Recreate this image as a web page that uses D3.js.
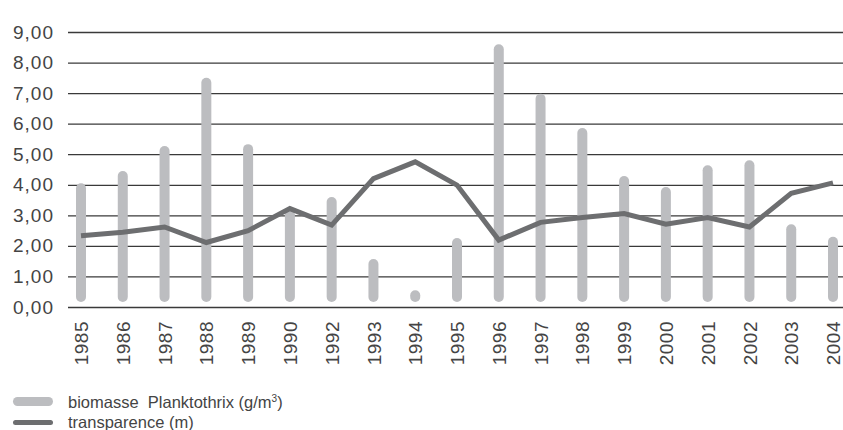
<!DOCTYPE html>
<html>
<head>
<meta charset="utf-8">
<script src="https://cdn.jsdelivr.net/npm/d3@7"></script>
<style>
  body { margin: 0; background: #fff; }
  text { font-family: "Liberation Sans", Arial, sans-serif; }
</style>
</head>
<body>
<svg id="chart" width="843" height="430"></svg>
<script>
var years = ['1985','1986','1987','1988','1989','1990','1992','1993','1994','1995',
             '1996','1997','1998','1999','2000','2001','2002','2003','2004'];
var biomasse = [4.05, 4.45, 5.27, 7.5, 5.33, 3.2, 3.6, 1.57, 0.55, 2.26,
                8.6, 6.98, 5.86, 4.29, 3.93, 4.64, 4.8, 2.71, 2.3];
var transparence = [2.33, 2.45, 2.62, 2.11, 2.5, 3.22, 2.68, 4.2, 4.75, 3.99,
                    2.19, 2.77, 2.93, 3.06, 2.71, 2.93, 2.62, 3.72, 4.06];
var yTicks = [0, 1, 2, 3, 4, 5, 6, 7, 8, 9];
var legendLabels = ['biomasse  Planktothrix (g/m', 'transparence (m)'];

(function () {
  var svg = d3.select('#chart');

  var x = d3.scalePoint().domain(years).range([81, 833]);
  var y = d3.scaleLinear().domain([0, 9]).range([307, 32]);

  var fmt = function(d) { return d3.format('.2f')(d).replace('.', ','); };

  // horizontal grid lines + labels
  var yAxis = d3.axisLeft(y).tickValues(yTicks).tickSize(-(843 - 68)).tickFormat(fmt).tickPadding(14);
  var gy = svg.append('g')
    .attr('transform', 'translate(68,0)')
    .call(yAxis);
  gy.select('.domain').remove();
  gy.selectAll('.tick line')
    .attr('stroke', '#3a3a3a')
    .attr('stroke-width', 1.3);
  gy.selectAll('.tick text')
    .attr('fill', '#444')
    .attr('font-size', '19px')
    .attr('letter-spacing', '1px');

  // biomasse bars, rounded
  svg.append('g').attr('id', 'bars')
    .selectAll('rect')
    .data(years)
    .enter()
    .append('rect')
    .attr('x', function(d) { return x(d) - 5; })
    .attr('y', function(d, i) { return y(biomasse[i]); })
    .attr('width', 10)
    .attr('height', function(d, i) { return y(0) - 5 - y(biomasse[i]); })
    .attr('rx', 5)
    .attr('fill', '#bcbdc0');

  // transparence line
  var line = d3.line()
    .x(function(d, i) { return x(years[i]); })
    .y(function(d) { return y(d); });

  svg.append('path')
    .attr('d', line(transparence))
    .attr('fill', 'none')
    .attr('stroke', '#6d6e70')
    .attr('stroke-width', 5)
    .attr('stroke-linejoin', 'miter');

  // year labels, rotated
  var xAxis = d3.axisBottom(x).tickSize(0).tickPadding(0);
  var gx = svg.append('g')
    .attr('transform', 'translate(0,321)')
    .call(xAxis);
  gx.select('.domain').remove();
  gx.selectAll('.tick text')
    .attr('transform', 'rotate(-90)')
    .attr('text-anchor', 'end')
    .attr('dy', '0.35em')
    .attr('x', 0)
    .attr('y', 0)
    .attr('fill', '#444')
    .attr('font-size', '19px')
    .attr('letter-spacing', '0.5px');

  // legend
  var legend = svg.append('g').attr('id', 'legend');
  legend.append('rect')
    .attr('x', 13).attr('y', 397).attr('width', 40).attr('height', 9).attr('rx', 4.5)
    .attr('fill', '#bcbdc0');
  legend.append('rect')
    .attr('x', 13).attr('y', 420).attr('width', 40).attr('height', 5).attr('rx', 2.5)
    .attr('fill', '#6d6e70');

  var t1 = legend.append('text')
    .attr('x', 68).attr('y', 408)
    .attr('font-size', '16.5px')
    .attr('fill', '#444')
    .style('white-space', 'pre')
    .text(legendLabels[0]);
  t1.append('tspan').attr('font-size', '10px').attr('dy', '-6').text('3');
  t1.append('tspan').attr('dy', '6').text(')');

  legend.append('text')
    .attr('x', 68).attr('y', 428)
    .attr('font-size', '16.5px')
    .attr('fill', '#444')
    .text(legendLabels[1]);
})();
</script>
</body>
</html>
